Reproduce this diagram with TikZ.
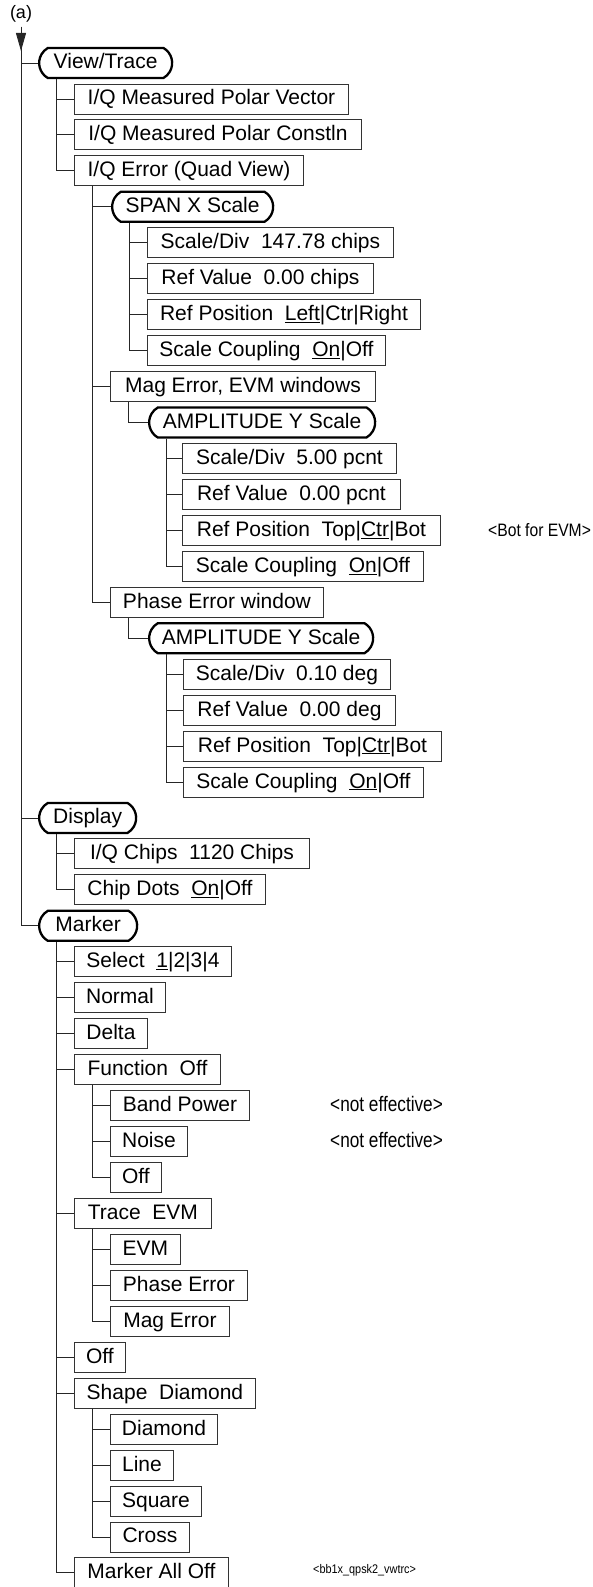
\documentclass[tikz,border=0pt]{standalone}
\usepackage{fontspec}
\setmainfont{Liberation Sans}
\newfontfamily\narrowA[FakeStretch=0.82]{Liberation Sans}
\newfontfamily\narrowB[FakeStretch=0.87]{Liberation Sans}
\usetikzlibrary{shapes.misc,arrows.meta}
\newcommand\ry[1]{63+35.95*#1}
\newcommand\branch[2]{%
  \path ([xshift=18.5pt]#1.west) coordinate (#1-v);
  \foreach \c in {#2} {\draw[conn] (#1-v |- #1.south) |- (\c.west);}%
}
\begin{document}
\begin{tikzpicture}[x=1pt,y=-1pt,
  box/.style={draw=black!80, line width=0.9pt, minimum height=30pt, inner sep=0pt,
    anchor=west, font=\fontsize{21}{25}\selectfont, text height=15.5pt, text depth=3.5pt},
  pill/.style={box, rounded rectangle, rounded rectangle arc length=120,
    line width=2.3pt, draw=black},
  conn/.style={line width=0.9pt, draw=black!85},
  notea/.style={anchor=base west, inner sep=0pt, font=\narrowA\fontsize{21}{25}\selectfont},
  noteb/.style={anchor=base west, inner sep=0pt, font=\narrowB\fontsize{18}{22}\selectfont},
  notec/.style={anchor=base west, inner sep=0pt, font=\narrowB\fontsize{12.5}{15}\selectfont}]
\useasboundingbox (0,0) rectangle (592,1587);

\node[anchor=base, inner sep=0pt, font=\fontsize{18}{22}\selectfont] (lbl) at (21,18.5) {(a)};
\coordinate (top) at (21,27);
\coordinate (atip) at (21,51);

\node[pill, minimum width=133] (vt) at (38,{\ry{0}}) {View/Trace};
\node[box, minimum width=274] (mpv) at (74,{\ry{1}}) {I/Q Measured Polar Vector};
\node[box, minimum width=287] (mpc) at (74,{\ry{2}}) {I/Q Measured Polar Constln};
\node[box, minimum width=229] (iqe) at (74,{\ry{3}}) {I/Q Error (Quad View)};
\node[pill, minimum width=161] (span) at (111,{\ry{4}}) {SPAN X Scale};
\node[box, minimum width=246] (s1) at (147,{\ry{5}}) {Scale/Div\ \ 147.78 chips};
\node[box, minimum width=226] (s2) at (147,{\ry{6}}) {Ref Value\ \ 0.00 chips};
\node[box, minimum width=273] (s3) at (147,{\ry{7}}) {Ref Position\ \ \underline{Left}|Ctr|Right};
\node[box, minimum width=238] (s4) at (147,{\ry{8}}) {Scale Coupling\ \ \underline{On}|Off};
\node[box, minimum width=265] (mag) at (110,{\ry{9}}) {Mag Error, EVM windows};
\node[pill, minimum width=226] (amp1) at (148,{\ry{10}}) {AMPLITUDE Y Scale};
\node[box, minimum width=214] (a1) at (182,{\ry{11}}) {Scale/Div\ \ 5.00 pcnt};
\node[box, minimum width=218] (a2) at (182,{\ry{12}}) {Ref Value\ \ 0.00 pcnt};
\node[box, minimum width=258] (a3) at (182,{\ry{13}}) {Ref Position\ \ Top|\underline{Ctr}|Bot};
\node[box, minimum width=241] (a4) at (182,{\ry{14}}) {Scale Coupling\ \ \underline{On}|Off};
\node[box, minimum width=213] (pew) at (110,{\ry{15}}) {Phase Error window};
\node[pill, minimum width=224] (amp2) at (148,{\ry{16}}) {AMPLITUDE Y Scale};
\node[box, minimum width=207] (b1) at (183,{\ry{17}}) {Scale/Div\ \ 0.10 deg};
\node[box, minimum width=212] (b2) at (183,{\ry{18}}) {Ref Value\ \ 0.00 deg};
\node[box, minimum width=258] (b3) at (183,{\ry{19}}) {Ref Position\ \ Top|\underline{Ctr}|Bot};
\node[box, minimum width=240] (b4) at (183,{\ry{20}}) {Scale Coupling\ \ \underline{On}|Off};
\node[pill, minimum width=97] (disp) at (38,{\ry{21}}) {Display};
\node[box, minimum width=235] (chips) at (74,{\ry{22}}) {I/Q Chips\ \ 1120 Chips};
\node[box, minimum width=191] (dots) at (74,{\ry{23}}) {Chip Dots\ \ \underline{On}|Off};
\node[pill, minimum width=98] (mk) at (38,{\ry{24}}) {Marker};
\node[box, minimum width=157] (sel) at (74,{\ry{25}}) {Select\ \ \underline{1}|2|3|4};
\node[box, minimum width=91] (norm) at (74,{\ry{26}}) {Normal};
\node[box, minimum width=73] (delta) at (74,{\ry{27}}) {Delta};
\node[box, minimum width=146] (fn) at (74,{\ry{28}}) {Function\ \ Off};
\node[box, minimum width=139] (bp) at (110,{\ry{29}}) {Band Power};
\node[box, minimum width=77] (noise) at (110,{\ry{30}}) {Noise};
\node[box, minimum width=51] (fnoff) at (110,{\ry{31}}) {Off};
\node[box, minimum width=137] (tr) at (74,{\ry{32}}) {Trace\ \ EVM};
\node[box, minimum width=70] (evm) at (110,{\ry{33}}) {EVM};
\node[box, minimum width=137] (pe) at (110,{\ry{34}}) {Phase Error};
\node[box, minimum width=119] (me) at (110,{\ry{35}}) {Mag Error};
\node[box, minimum width=51] (off) at (74,{\ry{36}}) {Off};
\node[box, minimum width=181] (shp) at (74,{\ry{37}}) {Shape\ \ Diamond};
\node[box, minimum width=107] (dia) at (110,{\ry{38}}) {Diamond};
\node[box, minimum width=63] (ln) at (110,{\ry{39}}) {Line};
\node[box, minimum width=91] (sq) at (110,{\ry{40}}) {Square};
\node[box, minimum width=79] (cross) at (110,{\ry{41}}) {Cross};
\node[box, minimum width=154] (mao) at (74,{\ry{42}}) {Marker All Off};

\node[noteb] (n1) at (488,{\ry{13}+6.5}) {<Bot for EVM>};
\node[notea] (n2) at (330,{\ry{29}+6}) {<not effective>};
\node[notea] (n3) at (330,{\ry{30}+6}) {<not effective>};
\node[notec] (n4) at (313,1573) {<bb1x\_qpsk2\_vwtrc>};

% main trunk
\draw[conn, -{Triangle[length=18pt,width=10pt]}] (top) -- (atip);
\draw[conn] (top) |- (vt.west);
\draw[conn] (top) |- (disp.west);
\draw[conn] (top) |- (mk.west);

\branch{vt}{mpv,mpc,iqe}
\branch{iqe}{span,mag,pew}
\branch{span}{s1,s2,s3,s4}
\branch{mag}{amp1}
\branch{amp1}{a1,a2,a3,a4}
\branch{pew}{amp2}
\branch{amp2}{b1,b2,b3,b4}
\branch{disp}{chips,dots}
\branch{mk}{sel,norm,delta,fn,tr,off,shp,mao}
\branch{fn}{bp,noise,fnoff}
\branch{tr}{evm,pe,me}
\branch{shp}{dia,ln,sq,cross}
\end{tikzpicture}
\end{document}
